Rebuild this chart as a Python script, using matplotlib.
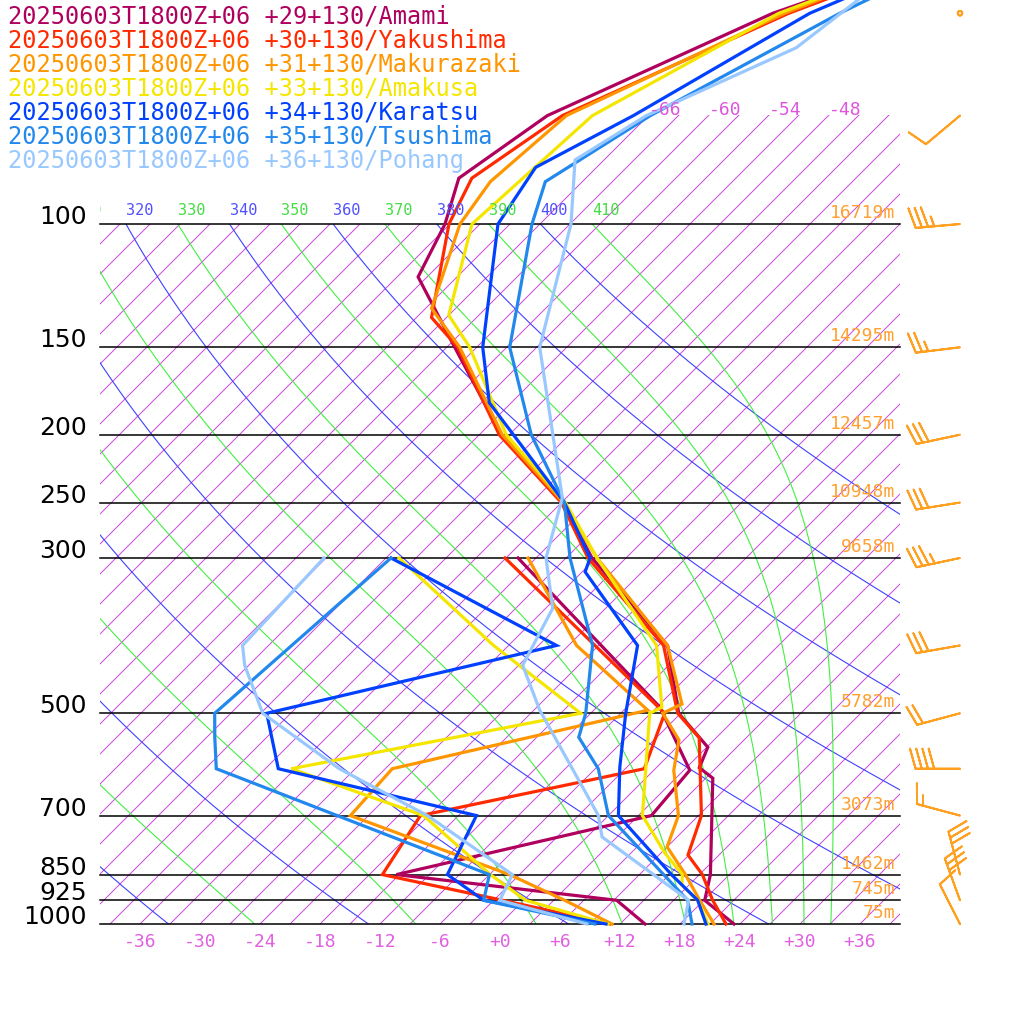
import numpy as np
import matplotlib
matplotlib.use("Agg")
import matplotlib.pyplot as plt
from matplotlib.patches import Rectangle

# --- station profiles (hPa, degC) ---
names = ["Amami", "Yakushima", "Makurazaki", "Amakusa", "Karatsu", "Tsushima", "Pohang"]
latlon = ["+29+130", "+30+130", "+31+130", "+33+130", "+34+130", "+35+130", "+36+130"]
colors = ["#b0005e", "#ff2a00", "#ff9600", "#f5e600", "#0040ff", "#2288ee", "#99c8ff"]

amami_p = [1000, 925, 850, 619, 598, 559, 500, 400, 300, 250, 200, 150, 119, 100, 86, 70, 50, 40]
amami_t = [23.4, 18.1, 16.1, 6.7, 4.3, 3.1, -3.2, -11.1, -27.4, -35.9, -48.8, -62.2, -72.9, -75.5, -78.7, -76.1, -63.8, -51]
amami_dp = [1000, 925, 850, 700, 603, 490, 300]
amami_td = [14.5, 9.3, -15.3, 4.3, 3.6, -5.7, -34.8]

yaku_p = [1000, 925, 850, 797, 700, 542, 500, 400, 300, 250, 200, 150, 136, 100, 86, 70, 50, 40]
yaku_t = [22.6, 18.9, 15.3, 11.9, 9.3, 1.3, -3.3, -11.5, -27.8, -36.0, -49.0, -61.9, -67.5, -75.1, -77.4, -74.6, -62.2, -51]
yaku_dp = [1000, 925, 850, 700, 600, 500, 300]
yaku_td = [11.0, -2.1, -16.7, -18.8, -1.1, -4.6, -36.1]

maku_p = [1000, 925, 850, 776, 700, 603, 546, 500, 485, 400, 300, 250, 200, 150, 132, 100, 87, 70, 50, 40]
maku_t = [21.4, 17.6, 13.6, 9.0, 7.0, 2.0, -0.5, -4.8, -3.8, -11.1, -26.9, -35.8, -48.7, -61.7, -68.4, -74.0, -75.2, -74.2, -62.6, -52]
maku_dp = [1000, 925, 850, 700, 600, 495, 400, 300]
maku_td = [11.2, 4.1, -4.0, -25.8, -26.3, -6.6, -20.2, -33.8]

amak_p = [1000, 925, 880, 850, 792, 700, 500, 490, 400, 300, 250, 200, 150, 135, 100, 70, 50, 40]
amak_t = [20.8, 17.4, 14.3, 13.3, 9.4, 3.4, -6.1, -5.5, -12.2, -26.9, -35.6, -48.3, -60.7, -66.0, -72.8, -71.6, -63.2, -52]
amak_dp = [1000, 925, 850, 700, 600, 500, 400, 300]
amak_td = [10.8, 0.2, -5.9, -18.5, -36.4, -13.0, -28.5, -46.7]

kara_p = [1000, 925, 850, 700, 597, 500, 400, 314, 300, 250, 180, 150, 100, 83, 70, 50, 40]
kara_t = [20.6, 17.4, 12.2, 1.0, -3.7, -8.5, -14.1, -26.7, -27.6, -35.7, -53.2, -59.4, -70.2, -72.1, -67.5, -60.1, -51]
kara_dp = [1000, 925, 850, 700, 600, 500, 400, 300]
kara_td = [10.6, -4.0, -10.2, -13.2, -37.7, -44.4, -22.2, -47.5]

tsu_p = [1000, 925, 700, 600, 541, 500, 400, 300, 250, 200, 150, 100, 87, 70, 50, 40]
tsu_t = [19.2, 16.4, 0.0, -5.7, -10.8, -12.5, -18.6, -29.6, -35.7, -45.8, -56.7, -66.8, -69.7, -65.8, -57.1, -50]
tsu_dp = [1000, 925, 850, 600, 541, 500, 300]
tsu_td = [9.5, -4.0, -6.0, -43.9, -47.2, -49.6, -47.5]

poh_p = [1000, 925, 751, 700, 495, 427, 354, 300, 246, 150, 100, 81, 70, 56, 40]
poh_t = [18.4, 16.5, 1.5, -1.0, -17.4, -23.6, -26.3, -32.0, -36.4, -53.7, -62.9, -68.9, -66.2, -58.0, -55]
poh_dp = [1000, 925, 850, 700, 600, 500, 427, 400, 300]
poh_td = [8.7, -2.4, -3.7, -18.1, -31.6, -44.8, -51.4, -53.6, -54.2]

temps = [(amami_p, amami_t), (yaku_p, yaku_t), (maku_p, maku_t), (amak_p, amak_t),
         (kara_p, kara_t), (tsu_p, tsu_t), (poh_p, poh_t)]
dews = [(amami_dp, amami_td), (yaku_dp, yaku_td), (maku_dp, maku_td), (amak_dp, amak_td),
        (kara_dp, kara_td), (tsu_dp, tsu_td), (poh_dp, poh_td)]

# levels, heights and winds
levels = [100, 150, 200, 250, 300, 500, 700, 850, 925, 1000]
heights = ["16719m", "14295m", "12457m", "10948m", "9658m", "5782m", "3073m", "1462m", "745m", "75m"]
wind_p = [50, 70, 100, 150, 200, 250, 300, 400, 500, 600, 700, 850, 925, 1000]
wind_spd = [0, 10, 35, 25, 30, 30, 35, 30, 20, 40, 15, 30, 30, 10]
wind_dir = [0, 230, 265, 263, 258, 261, 258, 260, 255, 270, 285, 345, 340, 333]  # from, deg


def px_x(t, p):
    return 500 + 10 * np.asarray(t) + 304 * np.log(1000 / np.asarray(p, dtype=float))


def px_y(p):
    return 100 + 304 * np.log(1000 / np.asarray(p, dtype=float))


fig = plt.figure(figsize=(10.24, 10.24), dpi=100)
ax = fig.add_axes([0, 0, 1, 1])
ax.set_xlim(0, 1024)
ax.set_ylim(0, 1024)
ax.axis("off")

box = Rectangle((100, 100), 800, 700, transform=ax.transData, fill=False, visible=False)
box_iso = Rectangle((100, 100), 800, 809, transform=ax.transData, fill=False, visible=False)
ax.add_patch(box)
ax.add_patch(box_iso)

pp = np.linspace(40, 1050, 600)

# isotherms every 3 C
for t in range(-120, 48, 3):
    ln, = ax.plot(px_x(t, pp), px_y(pp), color="#cc44dd", lw=0.7)
    ln.set_clip_path(box_iso if t >= -66 else box)
for t in range(-66, -47, 6):
    ax.text(px_x(t, 1000 * np.exp(-809 / 304)), 905, f"{t}", color="#dd55dd",
            fontsize=13, family="DejaVu Sans Mono", ha="left", va="bottom")

# dry adiabats (blue)
for th in range(200, 420, 20):
    tt = th * (pp / 1000) ** 0.2857 - 273.15
    ln, = ax.plot(px_x(tt, pp), px_y(pp), color="#4040ff", lw=0.8)
    ln.set_clip_path(box)

# pseudo-adiabats (green), integrated down from 100 hPa
Rd, cp, Lv, eps = 287.04, 1005.7, 2.501e6, 0.622


def moist(theta):
    ps = np.arange(100, 1050.1, 0.5)
    T = theta * 0.1 ** 0.2857
    out = [T]
    for i in range(1, len(ps)):
        p = ps[i - 1]
        tc = T - 273.15
        es = 6.112 * np.exp(17.67 * tc / (tc + 243.5))
        rs = eps * es / (p - es)
        dtdp = (Rd * T + Lv * rs) / (p * (cp + Lv ** 2 * rs * eps / (Rd * T ** 2)))
        T = T + dtdp * (ps[i] - p)
        out.append(T)
    return ps, np.array(out) - 273.15


for th in range(250, 420, 20):
    ps, tt = moist(th)
    ln, = ax.plot(px_x(tt, ps), px_y(ps), color="#44ee44", lw=0.8)
    ln.set_clip_path(box)

# theta labels at 100 hPa
lab_clip = Rectangle((100, 790), 800, 40, transform=ax.transData, visible=False)
ax.add_patch(lab_clip)
for th in range(310, 420, 10):
    col = "#5050ff" if th % 20 == 0 else "#44dd44"
    tx = ax.text(px_x(th * 0.1 ** 0.2857 - 273.15, 100), 806, str(th), color=col,
                 fontsize=11, family="DejaVu Sans Mono", ha="left", va="bottom")
    tx.set_clip_on(True)
    tx.set_clip_path(lab_clip)

# pressure lines and labels
for p, h in zip(levels, heights):
    y = px_y(p)
    ax.plot([100, 900], [y, y], color="black", lw=1.1)
    ax.text(87, y, str(p), color="black", fontsize=18, ha="right", va="baseline")
    ax.text(895, y + 2, h, color="#ffa030", fontsize=13, family="DejaVu Sans Mono",
            ha="right", va="bottom")

# bottom temperature labels
for t in range(-36, 37, 6):
    lab = f"+{t}" if t >= 0 else f"{t}"
    ax.text(500 + 10 * t, 82, lab, color="#e060e0", fontsize=13, family="DejaVu Sans Mono",
            ha="center", va="center")

# profiles
for i in range(len(names)):
    p, t = temps[i]
    ax.plot(px_x(t, p), px_y(p), color=colors[i], lw=2.3, solid_joinstyle="miter")
    p, t = dews[i]
    ax.plot(px_x(t, p), px_y(p), color=colors[i], lw=2.3, solid_joinstyle="miter")

# legend text
for i in range(len(names)):
    ax.text(8, 1024 - 17 - 24 * i, f"20250603T1800Z+06 {latlon[i]}/{names[i]}",
            color=colors[i], fontsize=17, family="DejaVu Sans Mono", ha="left", va="center")

# wind barbs
wd = np.radians(wind_dir)
spd = np.array(wind_spd, dtype=float)
u = -spd * np.sin(wd)
v = -spd * np.cos(wd)
ax.barbs(np.full(len(wind_p), 960.0), px_y(wind_p), u, v, color="#ffa020", length=8,
         linewidth=1.4, sizes=dict(emptybarb=0.05, spacing=0.14, height=0.45))

fig.savefig("out.png", dpi=100)
